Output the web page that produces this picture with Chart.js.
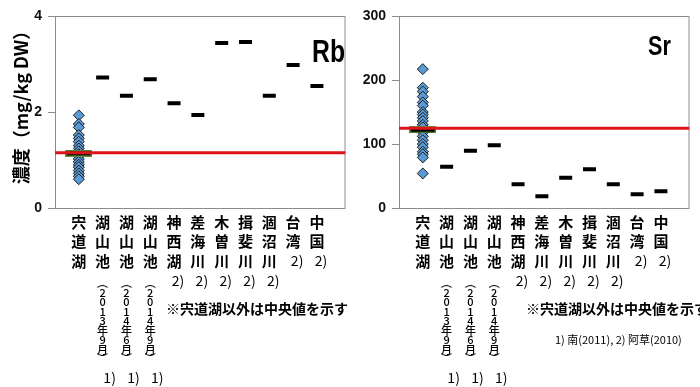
<!DOCTYPE html>
<html>
<head>
<meta charset="utf-8">
<script src="https://cdn.jsdelivr.net/npm/chart.js@4.4.1/dist/chart.umd.min.js"></script>
<style>
body { margin: 0; background: #fff; width: 700px; height: 387px; overflow: hidden; position: relative; }
canvas { position: absolute; top: 0; }
</style>
</head>
<body>
<canvas id="rb" width="356" height="387" style="left:0"></canvas>
<canvas id="sr" width="344" height="387" style="left:356px"></canvas>
<script>
// categories
const sites = ['宍道湖', '湖山池', '湖山池', '湖山池', '神西湖', '差海川', '木曽川', '揖斐川', '涸沼川', '台湾', '中国'];
const periods = ['', '(2013年9月)', '(2014年6月)', '(2014年9月)', '', '', '', '', '', '', ''];
const refs = ['', '1)', '1)', '1)', '2)', '2)', '2)', '2)', '2)', '2)', '2)'];

// Rb (mg/kg DW)
const rbShinji = [1.93, 1.75, 1.68, 1.52, 1.45, 1.38, 1.3, 1.24, 1.18, 1.12, 1.08, 1.02, 0.96, 0.9, 0.85, 0.78, 0.72, 0.66, 0.6];
const rbShinjiMedian = 1.14;
const rbOthers = [2.72, 2.34, 2.68, 2.18, 1.94, 3.44, 3.46, 2.34, 2.98, 2.54];
const rbRef = 1.15;
const rbTicks = [0, 2, 4];

// Sr (mg/kg DW)
const srShinji = [217, 188, 182, 174, 165, 160, 150, 146, 141, 136, 130, 126, 118, 112, 106, 100, 95, 88, 84, 79, 54];
const srShinjiMedian = 122;
const srOthers = [64.5, 89.6, 98, 37, 18.3, 47.4, 60.4, 37, 21.4, 26];
const srRef = 124.5;
const srTicks = [0, 100, 200, 300];

const jp = '"Noto Sans CJK JP", sans-serif';

// black dash with green outline for the 宍道湖 median
function medianMark() {
    var c = document.createElement('canvas');
    c.width = 27; c.height = 7;
    var g = c.getContext('2d');
    g.fillStyle = '#5f8f3a';
    g.fillRect(0, 0, 27, 7);
    g.fillStyle = '#000';
    g.fillRect(1.5, 1.5, 24, 4);
    return c;
}

// frame round the plot area
const frame = {
    id: 'frame',
    beforeDatasetsDraw(chart) {
        const a = chart.chartArea, ctx = chart.ctx;
        ctx.save();
        ctx.strokeStyle = '#8c8c8c';
        ctx.lineWidth = 1;
        ctx.strokeRect(a.left + 0.5, a.top + 0.5, a.right - a.left - 1, a.bottom - a.top);
        ctx.restore();
    }
};

// vertical site names under each category
const siteLabels = {
    id: 'siteLabels',
    afterDraw(chart) {
        const ctx = chart.ctx, xs = chart.scales.x;
        const y0 = chart.chartArea.bottom + 14;
        ctx.save();
        ctx.fillStyle = '#000';
        ctx.textAlign = 'center';
        ctx.textBaseline = 'middle';
        sites.forEach(function (name, i) {
            const x = xs.getPixelForValue(i);
            const chars = [...name];
            ctx.font = 'bold 15px ' + jp;
            chars.forEach(function (ch, k) { ctx.fillText(ch, x, y0 + k * 19.5); });
            if (periods[i]) {
                ctx.font = '500 11px ' + jp;
                const p = [...periods[i].replace('(', '︵').replace(')', '︶')];
                p.forEach(function (ch, k) { ctx.fillText(ch, x, y0 + 61 + k * 9.5); });
                ctx.font = '14px ' + jp;
                ctx.fillText(refs[i], x + 7, y0 + 156);
            } else if (refs[i]) {
                ctx.font = '14px ' + jp;
                ctx.fillText(refs[i], x + 4, y0 + chars.length * 19.5);
            }
        });
        ctx.restore();
    }
};

// free texts
const texts = {
    id: 'texts',
    afterDraw(chart, args, opts) {
        const ctx = chart.ctx;
        ctx.save();
        ctx.fillStyle = '#000';
        (opts.items || []).forEach(function (t) {
            ctx.save();
            ctx.font = t.font;
            ctx.textAlign = t.align || 'left';
            ctx.textBaseline = t.base || 'middle';
            ctx.translate(t.x, t.y);
            if (t.rot) ctx.rotate(t.rot);
            if (t.sx) ctx.scale(t.sx, 1);
            ctx.fillText(t.text, 0, 0);
            ctx.restore();
        });
        ctx.restore();
    }
};

function renderChart(id, shinji, median, others, ref, ticks, ymax, axisWidth, padRight, items) {
    return new Chart(document.getElementById(id), {
        type: 'scatter',
        data: {
            datasets: [{
                data: [{ x: -1, y: ref }, { x: 11.2, y: ref }],
                showLine: true,
                borderColor: '#e0141c',
                borderWidth: 3,
                pointRadius: 0,
                order: 0
            }, {
                data: [{ x: 0, y: median }],
                pointStyle: medianMark(),
                order: 1
            }, {
                data: others.map(function (v, i) { return { x: i + 1, y: v }; }),
                pointStyle: 'line',
                pointRadius: 6.5,
                borderColor: '#000',
                borderWidth: 4,
                order: 2
            }, {
                data: shinji.map(function (v) { return { x: 0, y: v }; }),
                pointStyle: 'rectRot',
                pointRadius: 5.5,
                backgroundColor: '#5b9bd5',
                borderColor: '#1c1c1c',
                borderWidth: 1,
                order: 3
            }]
        },
        options: {
            responsive: false,
            animation: false,
            layout: { padding: { left: 0, right: padRight, top: 16, bottom: 179 } },
            plugins: { legend: { display: false }, tooltip: { enabled: false }, texts: { items: items } },
            scales: {
                x: { type: 'linear', min: -1, max: 11.2, display: false },
                y: {
                    min: 0, max: ymax,
                    afterBuildTicks: function (s) { s.ticks = ticks.map(function (v) { return { value: v }; }); },
                    afterFit: function (s) { s.width = axisWidth; },
                    grid: { drawOnChartArea: false, drawTicks: true, tickLength: 7, color: '#8c8c8c' },
                    border: { display: false },
                    ticks: { padding: 6, color: '#111', font: { family: '"Liberation Sans", Arial, sans-serif', size: 14, weight: 'bold' } }
                }
            }
        },
        plugins: [frame, siteLabels, texts]
    });
}

const note = '※宍道湖以外は中央値を示す';
const sans = '"Liberation Sans", Arial, sans-serif';

renderChart('rb', rbShinji, rbShinjiMedian, rbOthers, rbRef, rbTicks, 4, 55, 3, [
    { text: '濃度（mg/kg DW）', x: 21, y: 103, rot: -Math.PI / 2, align: 'center', font: 'bold 18px ' + jp },
    { text: 'Rb', x: 312, y: 62, base: 'alphabetic', sx: 0.8, font: 'bold 31px ' + sans },
    { text: note, x: 166, y: 309, font: 'bold 14px ' + jp }
]);
renderChart('sr', srShinji, srShinjiMedian, srOthers, srRef, srTicks, 300, 43, 8, [
    { text: 'Sr', x: 292, y: 55, base: 'alphabetic', sx: 0.8, font: 'bold 27px ' + sans },
    { text: note, x: 170, y: 309, font: 'bold 14px ' + jp },
    { text: '1) 南(2011), 2) 阿草(2010)', x: 199, y: 340, font: '11px ' + jp }
]);
</script>
</body>
</html>
